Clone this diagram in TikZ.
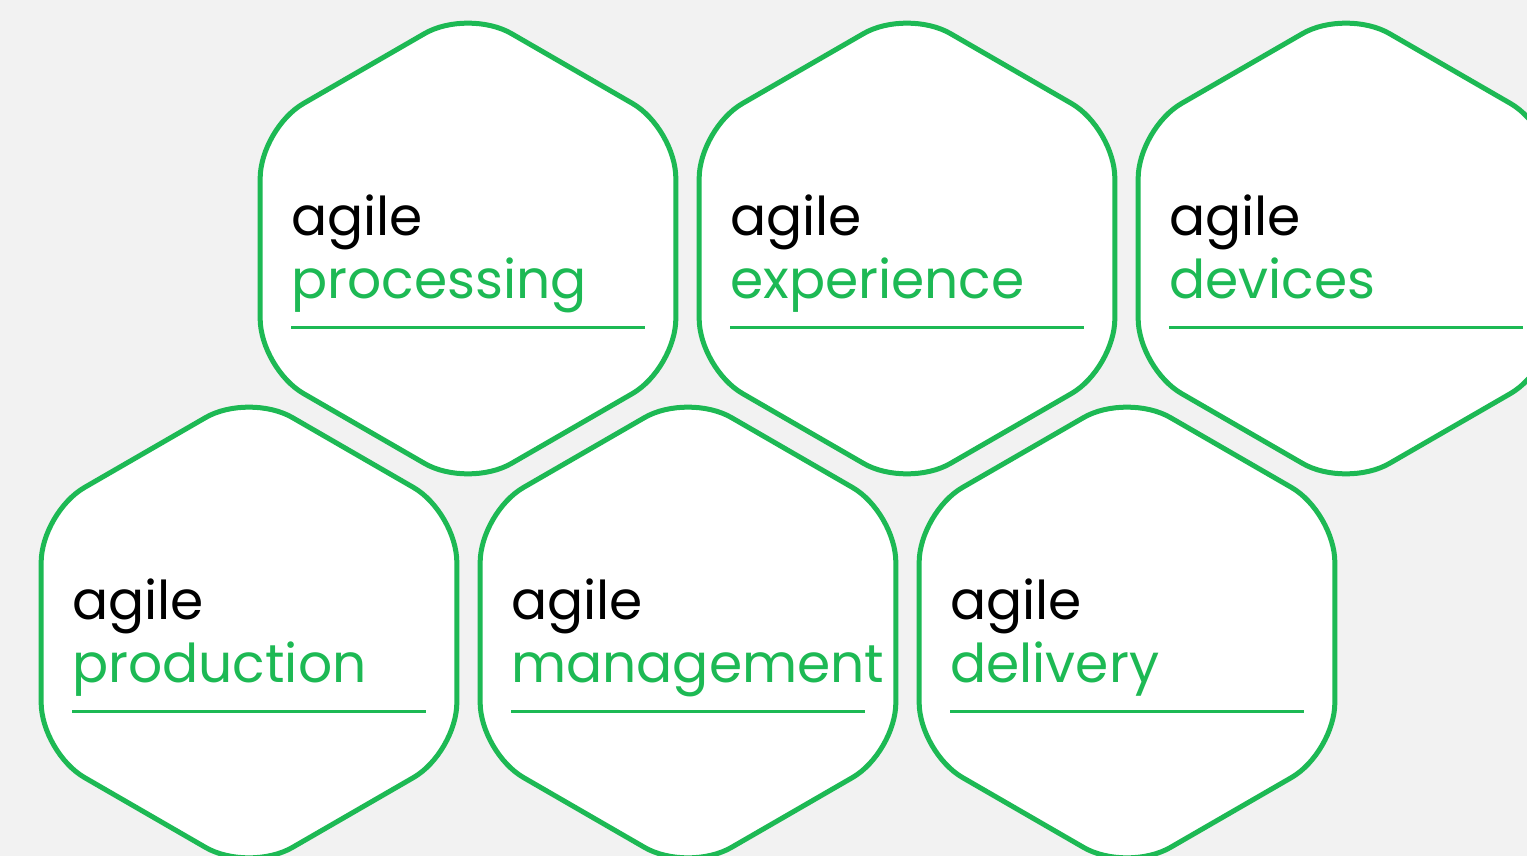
\documentclass[tikz,border=0pt]{standalone}
\usepackage{fontspec}
\setmainfont{Poppins}
\definecolor{leaf}{HTML}{1DB954}
\definecolor{paper}{HTML}{F2F2F2}
\begin{document}
\begin{tikzpicture}[x=1pt,y=-1pt,
  cell/.style={draw=leaf,line width=5pt,fill=white,rounded corners=50pt},
  lead/.style={anchor=base west,inner sep=0pt,text=black,font=\fontsize{53.5}{60}\selectfont},
  topic/.style={anchor=base west,inner sep=0pt,text=leaf,font=\fontsize{53.5}{60}\selectfont},
  rule/.style={draw=leaf,line width=2.8pt}]
\useasboundingbox (0,0) rectangle (1527,856);
\fill[paper] (0,0) rectangle (1527,856);
\clip (0,0) rectangle (1527,856);
% honeycomb cells: centre x, centre y, name, topic word
\foreach \cx/\cy/\nm/\word in {
    468/248.5/proc/processing,
    907/248.5/expe/experience,
    1346/248.5/devi/devices,
    249/632.5/prod/production,
    688/632.5/mana/management,
    1127/632.5/deli/delivery}{
  \path[cell] (\cx+103.9,\cy-180) -- (\cx+207.85,\cy-120) -- (\cx+207.85,\cy+120)
     -- (\cx,\cy+240) -- (\cx-207.85,\cy+120) -- (\cx-207.85,\cy-120)
     -- (\cx,\cy-240) -- cycle;
  \node[lead] (\nm-a) at (\cx-177,\cy-13) {agile};
  \node[topic] (\nm-w) at (\cx-177,\cy+50) {\word};
  \coordinate (\nm-l) at (\cx-177,\cy+79);
  \coordinate (\nm-r) at (\cx+177,\cy+79);
  \draw[rule] (\nm-l) -- (\nm-r);
}
\end{tikzpicture}
\end{document}
